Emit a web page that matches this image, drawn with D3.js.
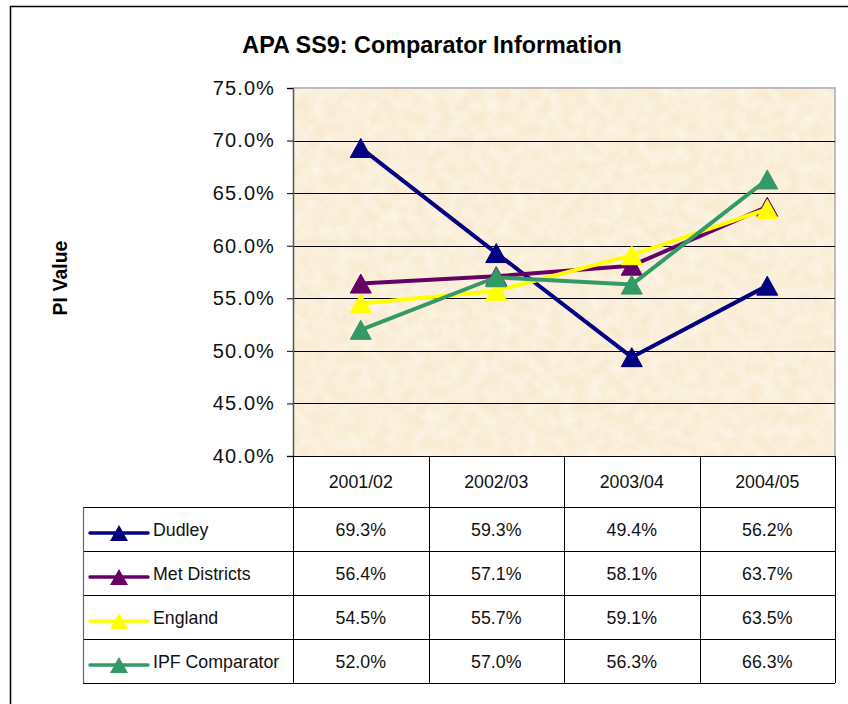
<!DOCTYPE html>
<html>
<head>
<meta charset="utf-8">
<script src="https://cdn.jsdelivr.net/npm/d3@7/dist/d3.min.js"></script>
<style>
  html, body { margin: 0; padding: 0; background: #fff; }
  svg { display: block; font-family: "Liberation Sans", Arial, sans-serif; }
</style>
</head>
<body>
<svg id="chart" width="848" height="704"></svg>
<script>
const years = ["2001/02", "2002/03", "2003/04", "2004/05"];
const seriesNames = ["Dudley", "Met Districts", "England", "IPF Comparator"];
const dudley = [0.693, 0.593, 0.494, 0.562];
const metDistricts = [0.564, 0.571, 0.581, 0.637];
const england = [0.545, 0.557, 0.591, 0.635];
const ipfComparator = [0.520, 0.570, 0.563, 0.663];
const seriesColors = ["#000080", "#660066", "#FFFF00", "#339966"];
const yTicks = [0.40, 0.45, 0.50, 0.55, 0.60, 0.65, 0.70, 0.75];

const seriesValues = [dudley, metDistricts, england, ipfComparator];
const series = seriesNames.map((n, i) => ({ name: n, values: seriesValues[i], color: seriesColors[i] }));

const svg = d3.select("#chart");
const pLeft = 293, pRight = 835, pTop = 88, pBottom = 456;
const tableLeft = 83, tableBottom = 683, headerBottom = 507;

const x = d3.scaleBand().domain(years).range([pLeft, pRight]);
const y = d3.scaleLinear().domain([0.40, 0.75]).range([pBottom, pTop]);
const rowY = d3.scaleBand().domain(seriesNames).range([headerBottom, tableBottom]);
const pct = d3.format(".1%");
const SX = 0.96;

// outer border
svg.append("rect").attr("x", 10.5).attr("y", 6.5).attr("width", 850).attr("height", 720)
  .attr("fill", "none").attr("stroke", "#000").attr("stroke-width", 1.5);

// paper texture filter
const defs = svg.append("defs");
const f = defs.append("filter").attr("id", "paper").attr("x", 0).attr("y", 0).attr("width", 1).attr("height", 1);
f.append("feTurbulence").attr("type", "fractalNoise").attr("baseFrequency", 0.08).attr("numOctaves", 3).attr("seed", 7).attr("result", "noise");
f.append("feColorMatrix").attr("in", "noise").attr("type", "matrix")
  .attr("values", "0 0 0 0 1  0 0 0 0 1  0 0 0 0 1  0.8 0 0 0 -0.22").attr("result", "light");
f.append("feComposite").attr("in", "light").attr("in2", "SourceGraphic").attr("operator", "in");

// plot background
svg.append("rect").attr("x", pLeft).attr("y", pTop).attr("width", pRight - pLeft).attr("height", pBottom - pTop)
  .attr("fill", "#F9EBD1");
svg.append("rect").attr("x", pLeft).attr("y", pTop).attr("width", pRight - pLeft).attr("height", pBottom - pTop)
  .attr("fill", "#fff").attr("filter", "url(#paper)");

// plot border (top + right grey)
svg.append("path")
  .attr("d", `M${pLeft},${pTop} H${pRight} V${pBottom}`)
  .attr("fill", "none").attr("stroke", "#BDBDBD").attr("stroke-width", 2);

// gridlines
svg.append("g").selectAll("line").data(yTicks.filter(t => t > 0.40 && t < 0.75)).join("line")
  .attr("x1", pLeft).attr("x2", pRight)
  .attr("y1", d => Math.round(y(d)) + 0.5).attr("y2", d => Math.round(y(d)) + 0.5)
  .attr("stroke", "#000").attr("stroke-width", 1);

// y axis
const yAxis = svg.append("g").attr("transform", `translate(${pLeft},0)`)
  .call(d3.axisLeft(y).tickValues(yTicks).tickFormat(d3.format(".1%")).tickSize(6).tickPadding(12));
yAxis.select(".domain").attr("stroke", "#555").attr("stroke-width", 1.5);
yAxis.selectAll(".tick line").attr("stroke", "#000");
yAxis.selectAll(".tick text")
  .attr("font-size", 20).attr("fill", "#111").attr("letter-spacing", 1.1)
  .attr("font-family", "'Liberation Sans', Arial, sans-serif");

// y axis title
svg.append("text").attr("transform", "translate(67,278) rotate(-90)")
  .attr("text-anchor", "middle").attr("font-weight", "bold").attr("font-size", 19.5)
  .text("PI Value");

// title
svg.append("text").attr("x", 432).attr("y", 53).attr("text-anchor", "middle")
  .attr("font-weight", "bold").attr("font-size", 23.4).attr("fill", "#000")
  .text("APA SS9: Comparator Information");

// table lines
const tbl = svg.append("g").attr("stroke", "#000").attr("stroke-width", 1);
tbl.append("line").attr("x1", pLeft - 6).attr("x2", pRight).attr("y1", pBottom + 0.5).attr("y2", pBottom + 0.5);
const colEdges = years.map(d => x(d)).concat([pRight]);
tbl.selectAll("line.v").data(colEdges).join("line").attr("class", "v")
  .attr("x1", d => Math.round(d) + 0.5).attr("x2", d => Math.round(d) + 0.5)
  .attr("y1", pBottom).attr("y2", tableBottom);
const rowEdges = seriesNames.map(d => rowY(d)).concat([tableBottom]);
tbl.selectAll("line.h").data(rowEdges).join("line").attr("class", "h")
  .attr("x1", tableLeft).attr("x2", pRight)
  .attr("y1", d => Math.round(d) + 0.5).attr("y2", d => Math.round(d) + 0.5);
svg.append("line").attr("x1", tableLeft + 0.5).attr("x2", tableLeft + 0.5)
  .attr("y1", headerBottom).attr("y2", tableBottom).attr("stroke", "#666").attr("stroke-width", 1.2);

// header labels
svg.append("g").selectAll("text").data(years).join("text")
  .attr("transform", d => `translate(${x(d) + x.bandwidth() / 2},${(pBottom + headerBottom) / 2 + 6}) scale(${SX},1)`)
  .attr("text-anchor", "middle").attr("font-size", 18.5).attr("fill", "#111")
  .text(d => d);

// table values
const rows = svg.append("g").selectAll("g").data(series).join("g");
rows.selectAll("text").data(s => s.values.map((v, i) => ({ v, year: years[i], name: s.name }))).join("text")
  .attr("transform", d => `translate(${x(d.year) + x.bandwidth() / 2},${rowY(d.name) + rowY.bandwidth() / 2 + 6.5}) scale(${SX},1)`)
  .attr("text-anchor", "middle").attr("font-size", 18.5).attr("fill", "#111")
  .text(d => pct(d.v));

const triPath = (w, h) => `M0,${-h / 2}L${w / 2},${h / 2}L${-w / 2},${h / 2}Z`;

// legend keys
const leg = svg.append("g").selectAll("g").data(series).join("g")
  .attr("transform", s => `translate(0,${rowY(s.name) + rowY.bandwidth() / 2 + 4})`);
leg.append("line").attr("x1", 90).attr("x2", 148).attr("y1", 0).attr("y2", 0)
  .attr("stroke", s => s.color).attr("stroke-width", 3.5).attr("stroke-linecap", "round");
leg.append("path").attr("d", triPath(18, 16)).attr("transform", "translate(119,0)")
  .attr("fill", s => s.color);
leg.append("text").attr("transform", `translate(153,2.5) scale(${SX},1)`)
  .attr("font-size", 18.5).attr("fill", "#111")
  .text(s => s.name);

// lines and markers
const line = d3.line().x((d, i) => x(years[i]) + x.bandwidth() / 2).y(d => y(d));
const sg = svg.append("g").selectAll("g").data(series).join("g");
sg.append("path").attr("d", s => line(s.values)).attr("fill", "none")
  .attr("stroke", s => s.color).attr("stroke-width", 4).attr("stroke-linejoin", "round");
sg.selectAll("path.m").data(s => s.values.map((v, i) => ({ v, i, c: s.color }))).join("path").attr("class", "m")
  .attr("d", triPath(21, 19))
  .attr("transform", d => `translate(${x(years[d.i]) + x.bandwidth() / 2},${y(d.v)})`)
  .attr("fill", d => d.c).attr("stroke", d => d.c).attr("stroke-width", 1);
</script>
</body>
</html>
